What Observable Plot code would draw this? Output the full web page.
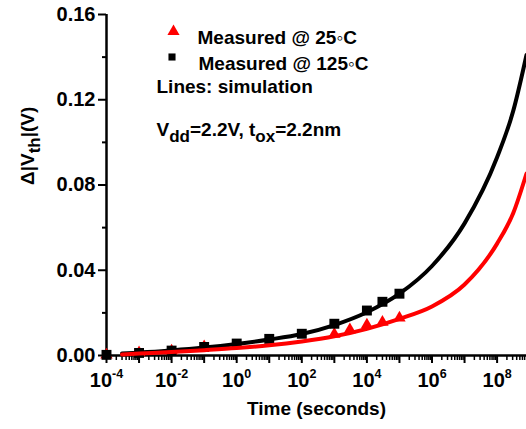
<!DOCTYPE html>
<html><head><meta charset="utf-8">
<script src="https://cdn.jsdelivr.net/npm/d3@7"></script>
<script src="https://cdn.jsdelivr.net/npm/@observablehq/plot@0.6"></script>
<style>
body{margin:0;background:#fff}
</style>
</head><body><div id="chart"></div>
<script>
// Simulation lines (time in seconds, ΔVth in volts)
const simTime = [3e-4, 1e-3, 1e-2, 1e-1, 1, 10, 100, 1e3, 1e4, 1e5, 1e6, 1e7, 1e8, 3.16e8, 8e8];
const sim125 = [0.0009, 0.0014, 0.0024, 0.0037, 0.0054, 0.0075, 0.0101, 0.0143, 0.0203, 0.0290, 0.0420, 0.0620, 0.0930, 0.1150, 0.1410];
const sim25  = [0.0005, 0.0009, 0.0016, 0.0025, 0.0035, 0.0048, 0.0066, 0.0090, 0.0125, 0.0172, 0.0230, 0.0333, 0.0525, 0.0670, 0.0854];

// Measured points
const meas25Time = [1e-4, 1e-3, 1e-2, 1e-1, 1e3, 3e3, 1e4, 3e4, 1e5];
const meas25 = [0.0003, 0.0013, 0.0022, 0.0041, 0.0100, 0.0121, 0.0143, 0.0156, 0.0176];
const meas125Time = [1e-4, 1e-3, 1e-2, 1e-1, 1, 10, 100, 1e3, 1e4, 3e4, 1e5];
const meas125 = [0.0003, 0.0012, 0.0023, 0.0040, 0.0056, 0.0078, 0.0102, 0.0149, 0.0211, 0.0252, 0.0290];

// Ticks and labels
const xLabelExp = ["-4", "-2", "0", "2", "4", "6", "8"];
const yTicks = [0, 0.04, 0.08, 0.12, 0.16];
const yMinor = [0.02, 0.06, 0.10, 0.14];
const legendLabels = ["Measured @ 25\u25E6C", "Measured @ 125\u25E6C"];
const noteLines = ["Lines: simulation", "V_{dd}=2.2V, t_{ox}=2.2nm"];
const xTitle = "Time (seconds)";
const yTitle = "\u0394|V_{th}|(V)";

const font = "'Liberation Sans', Arial, Helvetica, sans-serif";

const xMajor = d3.range(-4, 9).map(e => 10 ** e);
const xMinor = [];
for (let e = -4; e < 9; e++) for (let k = 2; k <= 9; k++) { const v = k * 10 ** e; if (v < 8e8) xMinor.push(v); }
const xLabeled = xLabelExp.map(e => 10 ** (+e));
const expOf = v => xLabelExp[xLabeled.findIndex(t => Math.abs(Math.log10(t) - Math.log10(v)) < 1e-6)];

const sim = simTime.map((t, i) => ({t, v125: sim125[i], v25: sim25[i]}));
const m25 = meas25Time.map((t, i) => ({t, v: meas25[i]}));
const m125 = meas125Time.map((t, i) => ({t, v: meas125[i]}));

const plot = Plot.plot({
  width: 526, height: 429,
  marginLeft: 106, marginRight: 0, marginTop: 14, marginBottom: 74,
  style: {fontFamily: font, fontWeight: "bold", fontSize: "20px", color: "#000", background: "#fff", overflow: "visible"},
  x: {type: "log", domain: [1e-4, 8e8]},
  y: {domain: [0, 0.16]},
  marks: [
    Plot.axisX(xMinor, {tickSize: 5, tickFormat: () => "", strokeWidth: 1.5, label: null}),
    Plot.axisX(xMajor, {tickSize: 8, tickFormat: () => "", strokeWidth: 2, label: null}),
    Plot.axisX(xLabeled, {tickSize: 0, tickPadding: 17, fontSize: 20, label: null,
      tickFormat: d => "10^" + expOf(d)}),
    Plot.axisY(yMinor, {tickSize: 4, tickFormat: () => "", strokeWidth: 2, label: null}),
    Plot.axisY(yTicks, {tickSize: 8, tickPadding: 3, strokeWidth: 2, fontSize: 20, tickFormat: d3.format(".2f"), label: null}),
    Plot.ruleX([1e-4], {strokeWidth: 2.5}),
    Plot.ruleY([0], {strokeWidth: 2.5}),
    Plot.line(sim, {x: "t", y: "v125", stroke: "black", strokeWidth: 4, curve: "monotone-x"}),
    Plot.dot(m25, {x: "t", y: "v", symbol: "triangle", r: 4.6, fill: "red", stroke: "none"}),
    Plot.dot(m125, {x: "t", y: "v", symbol: "square", r: 5.6, fill: "black", stroke: "none"}),
    Plot.line(sim, {x: "t", y: "v25", stroke: "red", strokeWidth: 4, curve: "monotone-x"}),
    // legend
    Plot.dot([legendLabels[0]], {frameAnchor: "top-left", dx: 67, dy: 17, symbol: "triangle", r: 4.5, fill: "red", stroke: "none"}),
    Plot.dot([legendLabels[1]], {frameAnchor: "top-left", dx: 65.5, dy: 42.5, symbol: "square", r: 4, fill: "black", stroke: "none"}),
    Plot.text([legendLabels[0]], {frameAnchor: "top-left", dx: 91, dy: 16, textAnchor: "start", fontSize: 19, fontWeight: "bold"}),
    Plot.text([legendLabels[1]], {frameAnchor: "top-left", dx: 92, dy: 41.5, textAnchor: "start", fontSize: 19, fontWeight: "bold"}),
    Plot.text([noteLines[0]], {frameAnchor: "top-left", dx: 50, dy: 65, textAnchor: "start", fontSize: 19, fontWeight: "bold"}),
    Plot.text([noteLines[1]], {frameAnchor: "top-left", dx: 50, dy: 108, textAnchor: "start", fontSize: 19, fontWeight: "bold"}),
    // axis titles
    Plot.text([xTitle], {frameAnchor: "bottom", dy: 59, fontSize: 19, fontWeight: "bold"}),
    Plot.text([yTitle], {frameAnchor: "left", dx: -79, rotate: -90, fontSize: 19, fontWeight: "bold"})
  ]
});

d3.select(plot).selectAll("text").each(function () {
  const s = this.textContent;
  const t = d3.select(this);
  if (s.includes("^")) {
    // superscript exponent on x tick labels
    const [b, e] = s.split("^");
    t.text(null);
    t.append("tspan").text(b);
    t.append("tspan").attr("dy", -9).attr("font-size", "12.5px").text(e);
  } else if (s.includes("_{")) {
    // subscripts
    t.text(null);
    const parts = s.split(/(_\{[^}]*\})/).filter(p => p.length);
    let shifted = false;
    for (const p of parts) {
      if (p.startsWith("_{")) {
        t.append("tspan").attr("dy", 6).attr("font-size", "17px").text(p.slice(2, -1));
        shifted = true;
      } else {
        const sp = t.append("tspan").text(p);
        if (shifted) { sp.attr("dy", -6); shifted = false; }
      }
    }
  }
});

document.getElementById("chart").append(plot);
</script>
</body></html>
